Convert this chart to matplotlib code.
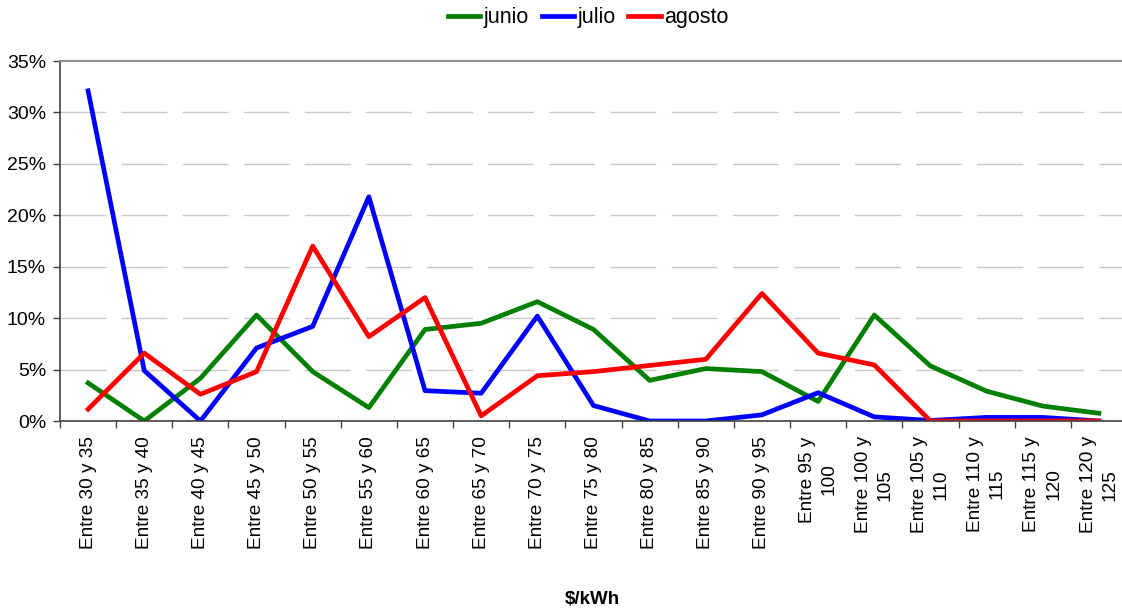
import numpy as np
import matplotlib.pyplot as plt
from matplotlib.ticker import FixedLocator, PercentFormatter

plt.rcParams['font.family'] = ['Liberation Sans', 'DejaVu Sans']

# price bands ($/kWh)
categorias = ['Entre 30 y 35', 'Entre 35 y 40', 'Entre 40 y 45', 'Entre 45 y 50',
              'Entre 50 y 55', 'Entre 55 y 60', 'Entre 60 y 65', 'Entre 65 y 70',
              'Entre 70 y 75', 'Entre 75 y 80', 'Entre 80 y 85', 'Entre 85 y 90',
              'Entre 90 y 95', 'Entre 95 y\n100', 'Entre 100 y\n105', 'Entre 105 y\n110',
              'Entre 110 y\n115', 'Entre 115 y\n120', 'Entre 120 y\n125']

# share of hours in each band (%)
junio = [3.7, 0.0, 4.15, 10.3, 4.8, 1.3, 8.9, 9.5, 11.6, 8.9, 3.95, 5.1, 4.8,
         1.9, 10.3, 5.35, 2.9, 1.45, 0.75]
julio = [32.1, 4.9, 0.0, 7.1, 9.2, 21.8, 2.95, 2.7, 10.2, 1.5, 0.0, 0.0, 0.6,
         2.75, 0.4, 0.05, 0.35, 0.35, 0.0]
agosto = [1.15, 6.6, 2.6, 4.8, 17.0, 8.2, 12.0, 0.5, 4.4, 4.8, 5.4, 6.0, 12.4,
          6.6, 5.45, 0.0, 0.0, 0.0, 0.0]

series = [('junio', junio, '#008000'), ('julio', julio, '#0000ff'), ('agosto', agosto, '#ff0000')]

fig = plt.figure(figsize=(11.22, 6.10), dpi=100)
# axes runs slightly past the right edge of the figure
ax = fig.add_axes([60/1122, 1 - 421/610, 1067/1122, 360/610])

x = np.arange(len(categorias))
for nombre, vals, color in series:
    ax.plot(x, vals, color=color, lw=3.4, label=nombre, solid_joinstyle='round')

ax.set_xlim(-0.5, len(categorias) - 0.5)
ax.set_ylim(0, 35)
ax.yaxis.set_major_locator(FixedLocator(np.arange(0, 36, 5)))
ax.yaxis.set_major_formatter(PercentFormatter(decimals=0))

ax.set_xticks(x)
ax.set_xticklabels(categorias, rotation=90, ha='center', va='top',
                   multialignment='center', fontsize=13.7, linespacing=1.35)
ax.tick_params(axis='x', which='major', length=0, pad=11)
ax.set_xticks(np.arange(-0.5, len(categorias), 1), minor=True)
ax.tick_params(axis='x', which='minor', length=5, width=1, color='#404040', direction='out')
ax.tick_params(axis='y', length=5, width=1, color='#404040', labelsize=14, pad=5)

for v in range(5, 35, 5):
    ax.axhline(v, color='#c8c8c8', lw=1.0, dashes=(33, 11), zorder=0)

for side in ['left', 'bottom']:
    ax.spines[side].set_color('#404040')
    ax.spines[side].set_linewidth(1.2)
ax.spines['top'].set_color('#909090')
ax.spines['top'].set_linewidth(1.5)
ax.spines['right'].set_visible(False)

fig.text(592/1122, 1 - 600/610, '\\$/kWh', fontsize=13.5, fontweight='bold',
         ha='center', va='center')

fig.legend(loc='center', bbox_to_anchor=(588/1122, 1 - 18/610), ncol=3, frameon=False,
           fontsize=15.5, handlelength=1.5, handletextpad=0.15, columnspacing=0.6,
           borderaxespad=0)

fig.savefig('out.png', dpi=100)
